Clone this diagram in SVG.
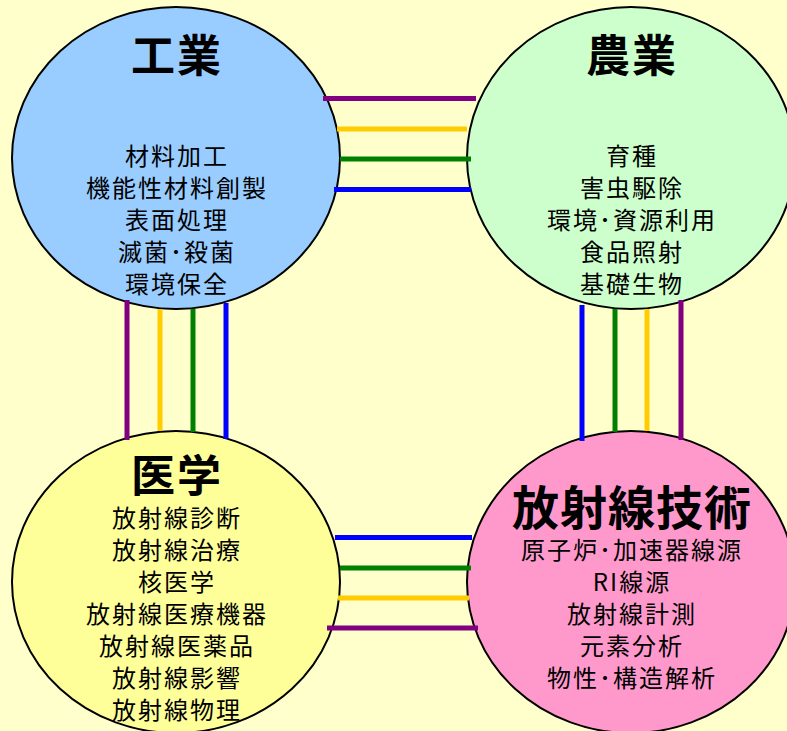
<svg xmlns="http://www.w3.org/2000/svg" width="787" height="731" viewBox="0 0 787 731">
<style>
.node ellipse{stroke:#000;stroke-width:2}
.title{font-family:"Noto Sans CJK JP","Noto Sans",sans-serif;font-size:44px;font-weight:bold;text-anchor:middle;fill:#000;letter-spacing:2px}
.body{font-family:"Noto Sans CJK JP","Noto Sans",sans-serif;font-size:24px;text-anchor:middle;fill:#000;letter-spacing:2px}
#connectors line{stroke-width:5}
.p{stroke:#800080}.y{stroke:#FFCC00}.g{stroke:#008000}.b{stroke:#0000FF}
</style>
<rect x="0" y="0" width="787" height="731" fill="#FFFFCC"/>
<g id="industry" class="node">
<ellipse cx="176" cy="158" rx="164" ry="151" fill="#99CCFF"/>
<text class="title" x="177" y="72">工業</text>
<text class="body" x="177" y="165">材料加工</text>
<text class="body" x="177" y="197">機能性材料創製</text>
<text class="body" x="177" y="229">表面処理</text>
<text class="body" x="177" y="261">滅菌･殺菌</text>
<text class="body" x="177" y="293">環境保全</text>
</g>
<g id="agriculture" class="node">
<ellipse cx="631" cy="158" rx="164" ry="151" fill="#CCFFCC"/>
<text class="title" x="632" y="72">農業</text>
<text class="body" x="632" y="165">育種</text>
<text class="body" x="632" y="197">害虫駆除</text>
<text class="body" x="632" y="229">環境･資源利用</text>
<text class="body" x="632" y="261">食品照射</text>
<text class="body" x="632" y="293">基礎生物</text>
</g>
<g id="medicine" class="node">
<ellipse cx="176" cy="582" rx="164" ry="151" fill="#FFFF99"/>
<text class="title" x="177" y="492">医学</text>
<text class="body" x="177" y="527">放射線診断</text>
<text class="body" x="177" y="559">放射線治療</text>
<text class="body" x="177" y="591">核医学</text>
<text class="body" x="177" y="623">放射線医療機器</text>
<text class="body" x="177" y="655">放射線医薬品</text>
<text class="body" x="177" y="687">放射線影響</text>
<text class="body" x="177" y="719">放射線物理</text>
</g>
<g id="radiation-technology" class="node">
<ellipse cx="631" cy="582" rx="164" ry="151" fill="#FF99CC"/>
<text class="title" x="632" y="525" style="font-size:47px;letter-spacing:1px">放射線技術</text>
<text class="body" x="632" y="559">原子炉･加速器線源</text>
<text class="body" x="632" y="591">RI線源</text>
<text class="body" x="632" y="623">放射線計測</text>
<text class="body" x="632" y="655">元素分析</text>
<text class="body" x="632" y="687">物性･構造解析</text>
</g>
<g id="connectors">
<line class="p" x1="323" y1="98.5" x2="476" y2="98.5"/>
<line class="y" x1="337" y1="129" x2="467" y2="129"/>
<line class="g" x1="340" y1="159" x2="471" y2="159"/>
<line class="b" x1="334" y1="189.5" x2="471" y2="189.5"/>
<line class="p" x1="127" y1="300" x2="127" y2="440"/>
<line class="y" x1="160" y1="309" x2="160" y2="431"/>
<line class="g" x1="193" y1="309" x2="193" y2="432"/>
<line class="b" x1="226" y1="303" x2="226" y2="439"/>
<line class="b" x1="582" y1="305" x2="582" y2="441"/>
<line class="g" x1="615" y1="309" x2="615" y2="432"/>
<line class="y" x1="647" y1="309" x2="647" y2="431"/>
<line class="p" x1="681" y1="300" x2="681" y2="440"/>
<line class="b" x1="335" y1="537.5" x2="472" y2="537.5"/>
<line class="g" x1="340" y1="568" x2="471" y2="568"/>
<line class="y" x1="338" y1="598" x2="469" y2="598"/>
<line class="p" x1="327" y1="628" x2="478" y2="628"/>
</g>
</svg>
